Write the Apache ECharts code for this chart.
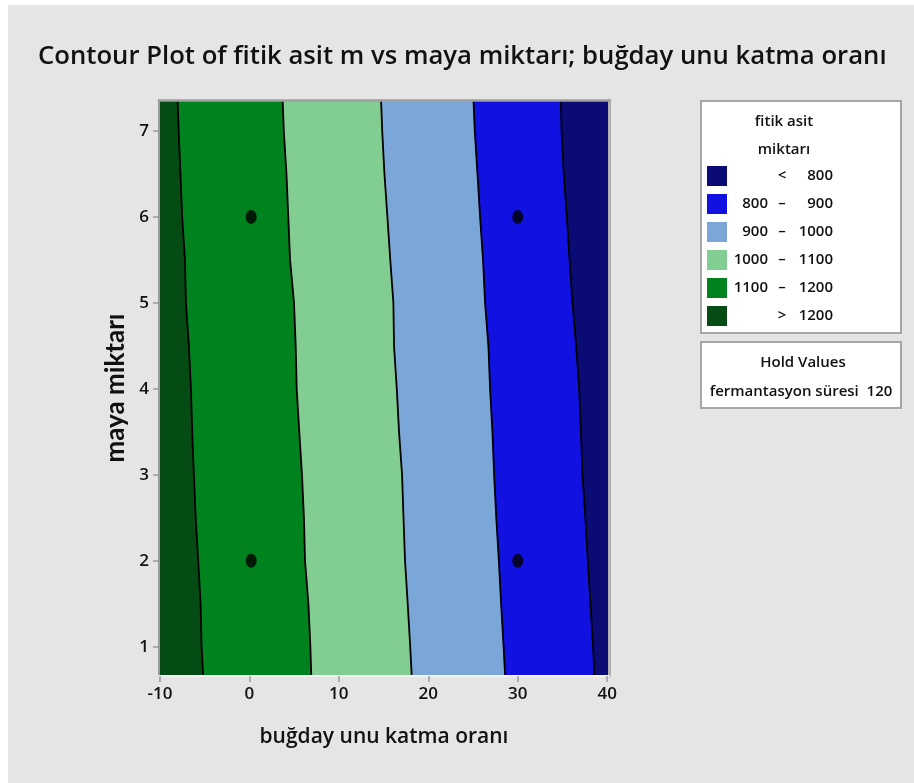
<!DOCTYPE html>
<html>
<head>
<meta charset="utf-8">
<script src="https://cdn.jsdelivr.net/npm/echarts@6/dist/echarts.min.js"></script>
<style>
  html, body { margin: 0; padding: 0; background: #ffffff; }
  #chart { width: 914px; height: 783px; }
</style>
</head>
<body>
<div id="chart"></div>
<script>
// maya miktarı positions at which each contour line is traced
const mayaMiktari = [0.66, 1, 1.5, 2, 2.5, 3, 3.5, 4, 4.5, 5, 5.5, 6, 6.5, 7, 7.36];

// buğday unu katma oranı where fitik asit miktarı crosses each level
const contour1200 = [-5.16, -5.34, -5.45, -5.72, -6.0, -6.2, -6.39, -6.53, -6.76, -7.09, -7.2, -7.51, -7.7, -7.9, -8.02];
const contour1100 = [6.92, 6.82, 6.6, 6.22, 6.1, 5.88, 5.58, 5.29, 5.18, 4.99, 4.55, 4.35, 4.15, 3.85, 3.72];
const contour1000 = [18.15, 17.98, 17.7, 17.4, 17.23, 17.07, 16.73, 16.48, 16.17, 16.1, 15.75, 15.43, 15.1, 14.85, 14.72];
const contour900  = [28.59, 28.42, 28.14, 27.89, 27.6, 27.36, 27.17, 26.91, 26.72, 26.35, 26.12, 25.79, 25.5, 25.2, 25.05];
const contour800  = [38.58, 38.42, 38.12, 37.84, 37.56, 37.24, 37.06, 36.87, 36.53, 36.12, 35.8, 35.49, 35.15, 34.9, 34.82];

// design points
const designBugday = [0.2, 0.2, 30, 30];
const designMaya = [2, 6, 2, 6];

// axis ranges and ticks
const xRange = [-10.1, 40.2];
const yRange = [0.66, 7.36];
const xTicks = [-10, 0, 10, 20, 30, 40];
const yTicks = [1, 2, 3, 4, 5, 6, 7];

// legend classes (top to bottom in the key)
const classLow = ['', '800', '900', '1000', '1100', ''];
const classHigh = ['800', '900', '1000', '1100', '1200', '1200'];
const classSign = ['<', '–', '–', '–', '–', '>'];
const classColors = ['#0b0b75', '#1111e2', '#7ba7d8', '#82cd91', '#00821e', '#044c14'];

const holdFactor = 'fermantasyon süresi';
const holdValue = '120';

// bands from left (> 1200) to right (< 800)
const contours = [contour1200, contour1100, contour1000, contour900, contour800];
const bandColors = classColors.slice().reverse();
const leftEdge = mayaMiktari.map(() => xRange[0]);
const rightEdge = mayaMiktari.map(() => xRange[1]);
const bandBounds = [];
for (let i = 0; i <= contours.length; i++) {
  bandBounds.push([i === 0 ? leftEdge : contours[i - 1], i === contours.length ? rightEdge : contours[i]]);
}

const FONT = 'Open Sans';

function renderBand(params, api) {
  const b = bandBounds[params.dataIndex];
  const pts = [];
  for (let k = 0; k < mayaMiktari.length; k++) pts.push(api.coord([b[0][k], mayaMiktari[k]]));
  for (let k = mayaMiktari.length - 1; k >= 0; k--) pts.push(api.coord([b[1][k], mayaMiktari[k]]));
  return { type: 'polygon', shape: { points: pts }, style: { fill: bandColors[params.dataIndex], stroke: bandColors[params.dataIndex], lineWidth: 0.5 } };
}

const series = [{
  type: 'custom',
  renderItem: renderBand,
  clip: true,
  data: bandBounds.map((_, i) => [i]),
  silent: true,
  z: 1
}];

contours.forEach((c) => {
  series.push({
    type: 'line',
    data: c.map((x, k) => [x, mayaMiktari[k]]),
    showSymbol: false,
    symbol: 'none',
    lineStyle: { color: '#000', width: 1.8 },
    silent: true,
    z: 3
  });
});

series.push({
  type: 'scatter',
  data: designBugday.map((x, i) => [x, designMaya[i]]),
  symbol: 'circle',
  symbolSize: [11, 14],
  itemStyle: { color: '#000' },
  silent: true,
  z: 4
});

// key box
const LF = '600 15px "' + FONT + '"';
const graphics = [
  { type: 'rect', shape: { x: 0, y: 0, width: 914, height: 783 }, style: { fill: '#ffffff' }, z: -10, silent: true },
  { type: 'rect', shape: { x: 8, y: 5, width: 906, height: 778 }, style: { fill: '#e5e5e5' }, z: -9, silent: true },
  { type: 'rect', shape: { x: 701, y: 101, width: 200, height: 232 }, style: { fill: '#fff', stroke: '#a6a6a6', lineWidth: 2 } },
  { type: 'text', x: 784, y: 122, style: { text: 'fitik asit', font: LF, fill: '#111', align: 'center', verticalAlign: 'middle' } },
  { type: 'text', x: 784, y: 150, style: { text: 'miktarı', font: LF, fill: '#111', align: 'center', verticalAlign: 'middle' } },
  { type: 'rect', shape: { x: 701, y: 342, width: 200, height: 66 }, style: { fill: '#fff', stroke: '#a6a6a6', lineWidth: 2 } },
  { type: 'text', x: 803, y: 363, style: { text: 'Hold Values', font: LF, fill: '#111', align: 'center', verticalAlign: 'middle' } },
  { type: 'text', x: 801, y: 392, style: { text: holdFactor + '  ' + holdValue, font: LF, fill: '#111', align: 'center', verticalAlign: 'middle' } }
];
classColors.forEach((col, i) => {
  const cy = 176 + i * 28;
  graphics.push({ type: 'rect', shape: { x: 707, y: cy - 10, width: 20, height: 20 }, style: { fill: col } });
  if (classLow[i]) graphics.push({ type: 'text', x: 768, y: cy, style: { text: classLow[i], font: LF, fill: '#111', align: 'right', verticalAlign: 'middle' } });
  graphics.push({ type: 'text', x: 782, y: cy, style: { text: classSign[i], font: LF, fill: '#111', align: 'center', verticalAlign: 'middle' } });
  graphics.push({ type: 'text', x: 833, y: cy, style: { text: classHigh[i], font: LF, fill: '#111', align: 'right', verticalAlign: 'middle' } });
});

const chart = echarts.init(document.getElementById('chart'), null, { renderer: 'canvas' });
chart.setOption({
  animation: false,
  backgroundColor: 'transparent',
  title: {
    text: 'Contour Plot of fitik asit m vs maya miktarı; buğday unu katma oranı',
    left: 33,
    top: 39,
    textStyle: { fontFamily: FONT, fontSize: 25.7, fontWeight: 600, color: '#111' }
  },
  grid: { left: 159, top: 100, width: 450, height: 576, containLabel: false },
  xAxis: [{
    type: 'value', min: xRange[0], max: xRange[1],
    name: 'buğday unu katma oranı', nameLocation: 'middle', nameGap: 51,
    nameTextStyle: { fontFamily: FONT, fontSize: 21, fontWeight: 600, color: '#111' },
    axisLine: { show: true, onZero: false, lineStyle: { color: '#f4f4f4', width: 2 } },
    axisTick: { show: true, customValues: xTicks, length: 6, lineStyle: { color: '#9a9a9a', width: 1.5 } },
    axisLabel: { customValues: xTicks, margin: 10, fontFamily: FONT, fontSize: 17, fontWeight: 600, color: '#111' },
    splitLine: { show: false }, z: 5
  }, {
    type: 'value', position: 'top', min: xRange[0], max: xRange[1],
    axisLine: { show: true, onZero: false, lineStyle: { color: '#a0a0a0', width: 2.5 } },
    axisTick: { show: false }, axisLabel: { show: false }, splitLine: { show: false }, z: 5
  }],
  yAxis: [{
    type: 'value', min: yRange[0], max: yRange[1],
    name: 'maya miktarı', nameLocation: 'middle', nameGap: 30, nameRotate: 90,
    nameTextStyle: { fontFamily: 'Lato', fontSize: 26, fontWeight: 700, color: '#111' },
    axisLine: { show: true, onZero: false, lineStyle: { color: '#9a9a9a', width: 2 } },
    axisTick: { show: true, customValues: yTicks, length: 6, lineStyle: { color: '#9a9a9a', width: 1.5 } },
    axisLabel: { customValues: yTicks, margin: 10, fontFamily: FONT, fontSize: 17, fontWeight: 600, color: '#111' },
    splitLine: { show: false }, z: 5
  }, {
    type: 'value', position: 'right', min: yRange[0], max: yRange[1],
    axisLine: { show: true, onZero: false, lineStyle: { color: '#b0b0b0', width: 3 } },
    axisTick: { show: false }, axisLabel: { show: false }, splitLine: { show: false }, z: 5
  }],
  graphic: graphics,
  series: series
});
</script>
</body>
</html>
